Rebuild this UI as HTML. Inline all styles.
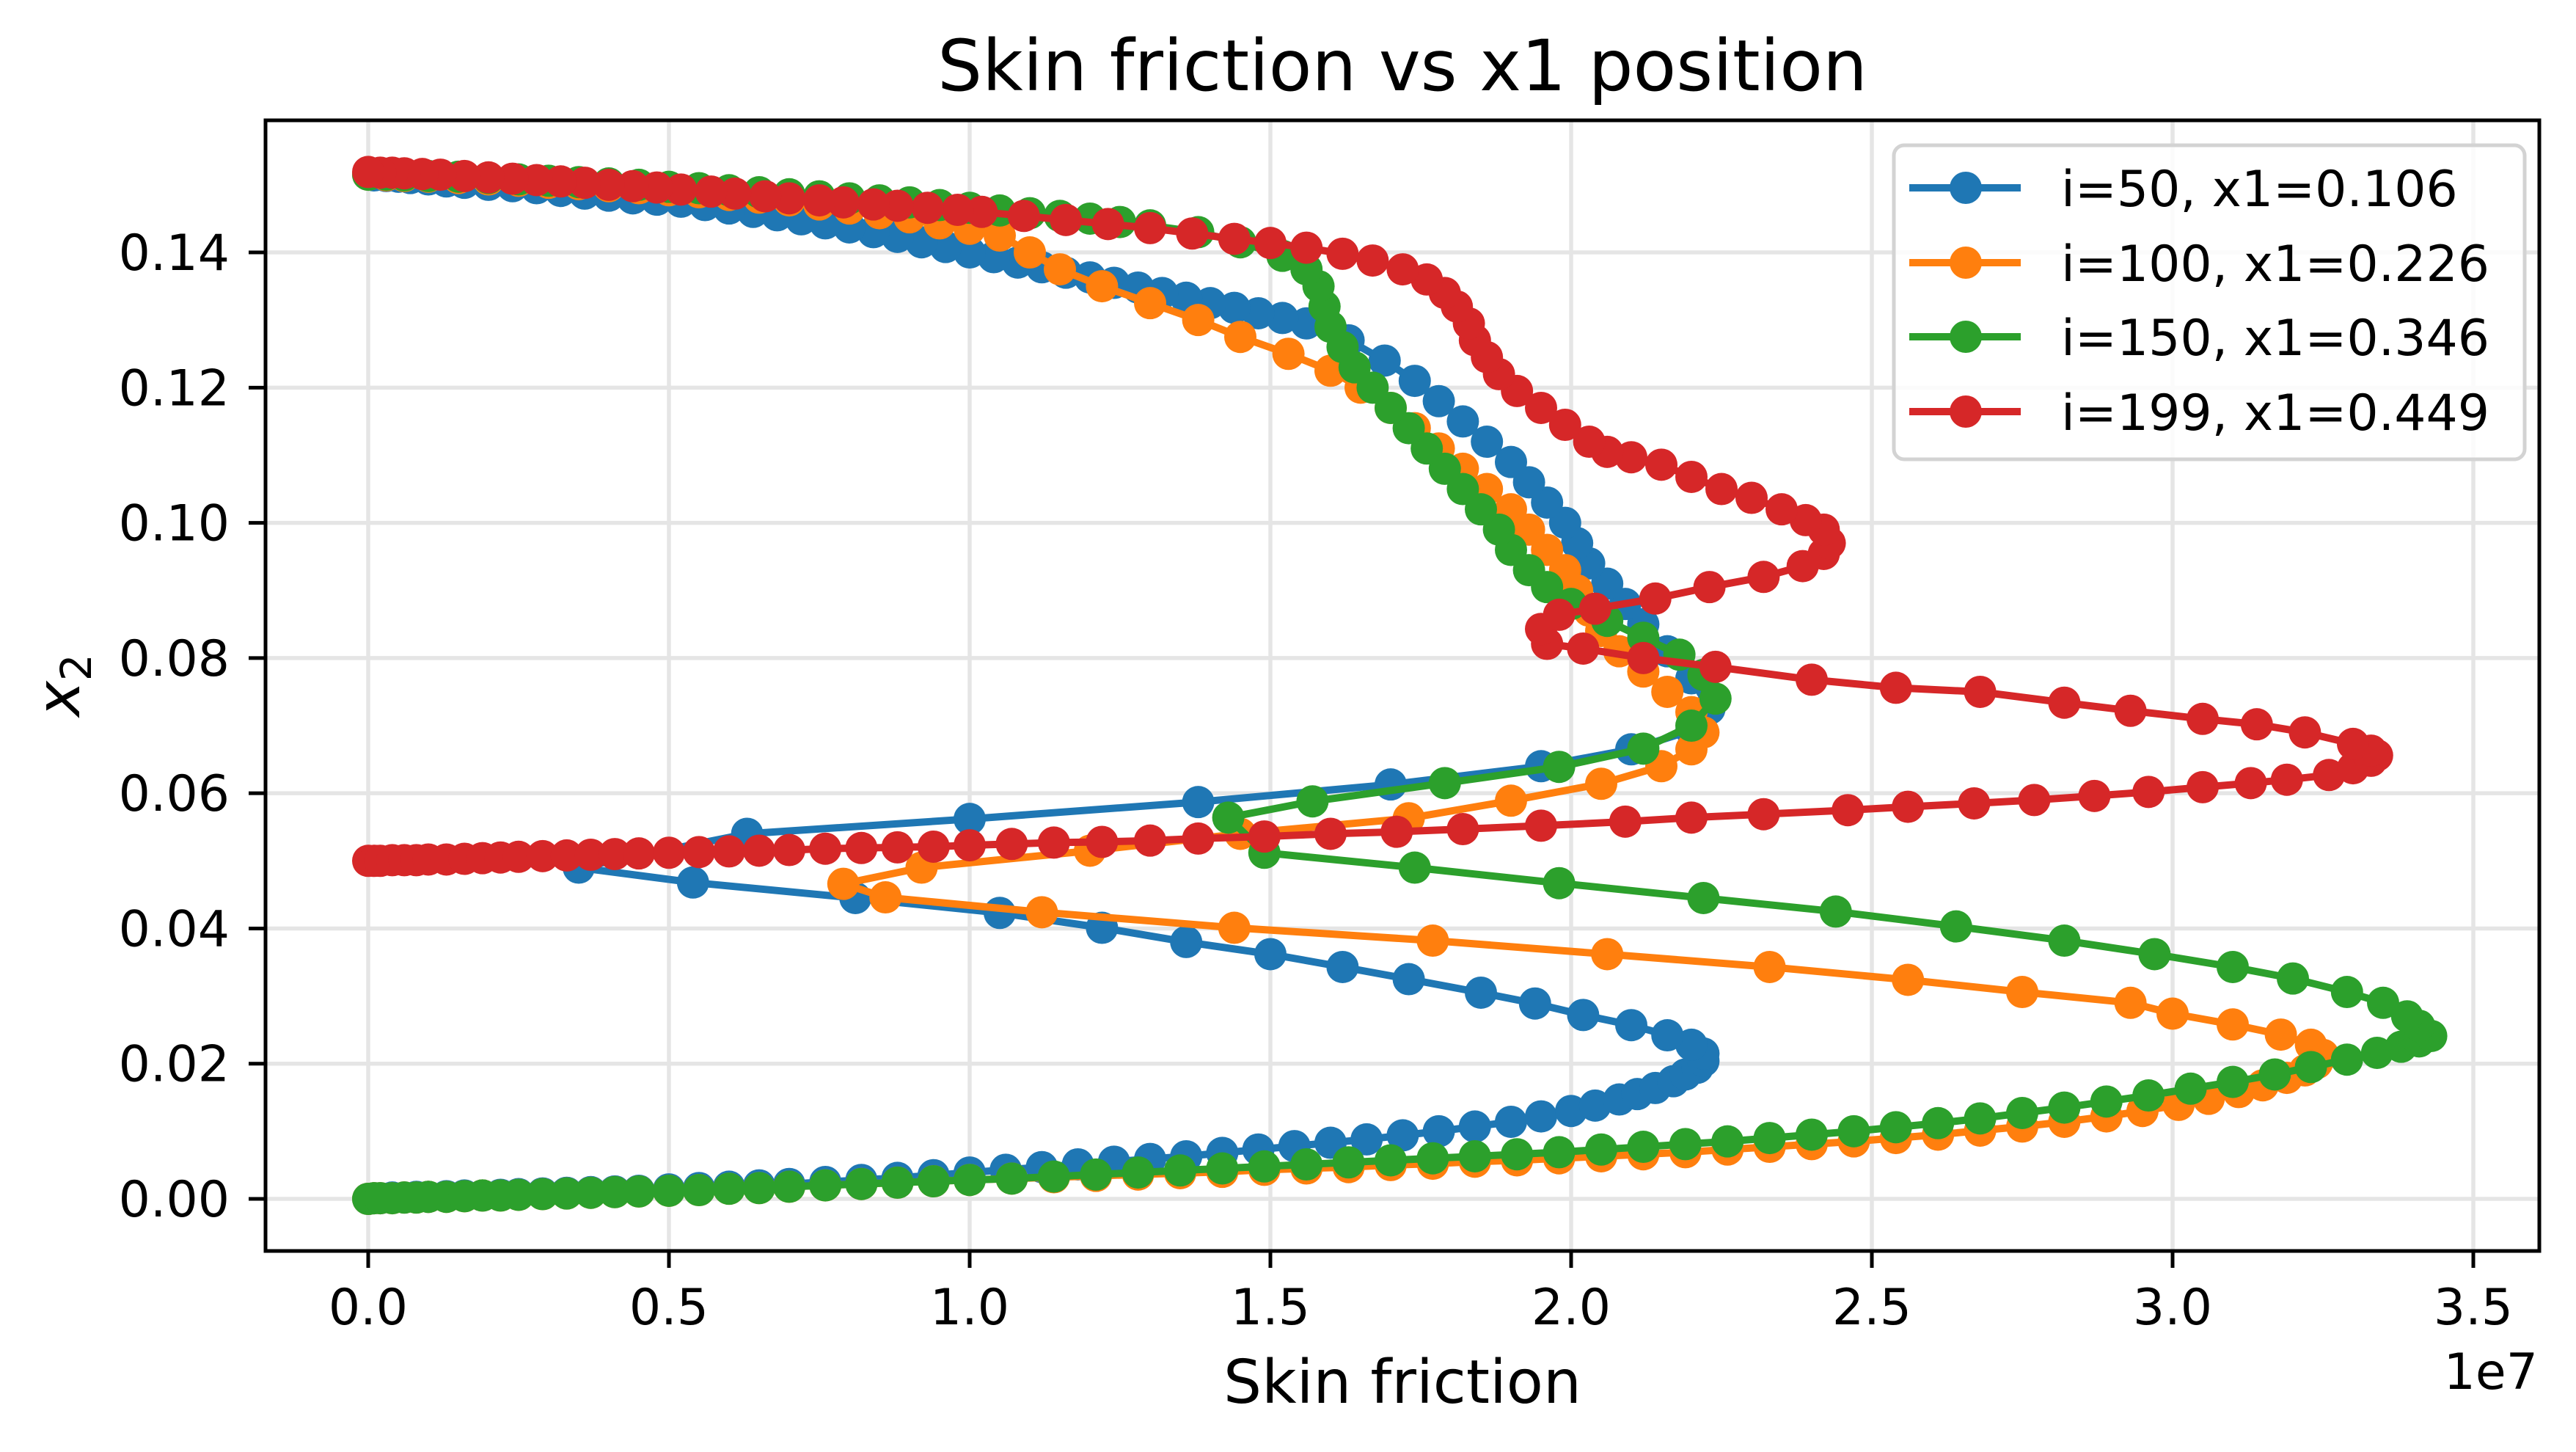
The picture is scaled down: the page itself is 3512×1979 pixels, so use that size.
<!DOCTYPE html>
<html><head><meta charset="utf-8"><style>
html,body{margin:0;padding:0;background:#fff}
svg{display:block}
text{font-family:"DejaVu Sans","Liberation Sans",sans-serif;fill:#000}
</style></head><body>
<svg id="chart" width="3512" height="1979" viewBox="0 0 3512 1979" xmlns="http://www.w3.org/2000/svg">
<rect width="3512" height="1979" fill="#fff"/>
<g id="grid"></g>
<g id="plot"></g>
<rect x="362" y="164" width="3100" height="1541" fill="none" stroke="#000" stroke-width="5"/>
<g id="ticks"></g>
<text x="1912" y="123" font-size="96" text-anchor="middle">Skin friction vs x1 position</text>
<text x="1912" y="1912" font-size="82" text-anchor="middle">Skin friction</text>
<text x="3460" y="1893" font-size="68" text-anchor="end">1e7</text>
<text transform="translate(108,934) rotate(-90)" font-size="82" text-anchor="middle"><tspan font-style="italic">x</tspan><tspan font-size="58" dy="16">2</tspan></text>
<g id="legend"></g>
</svg>
<script>
const xTicks = [0,0.5,1.0,1.5,2.0,2.5,3.0,3.5];
const xTickLabels = ["0.0","0.5","1.0","1.5","2.0","2.5","3.0","3.5"];
const yTicks = [0,0.02,0.04,0.06,0.08,0.10,0.12,0.14];
const yTickLabels = ["0.00","0.02","0.04","0.06","0.08","0.10","0.12","0.14"];
const seriesNames = ["i=50, x1=0.106","i=100, x1=0.226","i=150, x1=0.346","i=199, x1=0.449"];
const seriesColors = ["#1f77b4","#ff7f0e","#2ca02c","#d62728"];

const blueData = [[0,0],[0.01,0.0001],[0.02,0.0001],[0.04,0.0002],[0.06,0.0002],[0.08,0.0003],[0.1,0.0003],[0.13,0.0004],[0.16,0.0005],[0.19,0.0005],[0.22,0.0006],[0.25,0.0007],[0.29,0.0008],[0.33,0.0009],[0.37,0.001],[0.41,0.0011],[0.45,0.0012],[0.5,0.0014],[0.55,0.0016],[0.6,0.0018],[0.65,0.002],[0.7,0.0022],[0.76,0.0025],[0.82,0.0028],[0.88,0.0031],[0.94,0.0035],[1.0,0.0039],[1.06,0.0043],[1.12,0.0047],[1.18,0.0051],[1.24,0.0055],[1.3,0.0059],[1.36,0.0063],[1.42,0.0068],[1.48,0.0073],[1.54,0.0078],[1.6,0.0083],[1.66,0.0088],[1.72,0.0094],[1.78,0.01],[1.84,0.0107],[1.9,0.0114],[1.95,0.0122],[2.0,0.013],[2.04,0.0138],[2.08,0.0147],[2.11,0.0155],[2.14,0.0164],[2.17,0.0174],[2.19,0.0184],[2.21,0.0194],[2.22,0.0204],[2.22,0.0215],[2.2,0.0228],[2.16,0.0242],[2.1,0.0257],[2.02,0.0272],[1.94,0.0289],[1.85,0.0305],[1.73,0.0325],[1.62,0.0343],[1.5,0.0362],[1.36,0.038],[1.22,0.0401],[1.05,0.0423],[0.81,0.0445],[0.54,0.0468],[0.35,0.049],[0.63,0.054],[1.0,0.0562],[1.38,0.0587],[1.7,0.0613],[1.95,0.064],[2.1,0.0665],[2.2,0.0693],[2.23,0.0725],[2.2,0.077],[2.16,0.081],[2.12,0.085],[2.09,0.088],[2.06,0.091],[2.03,0.094],[2.01,0.097],[1.99,0.1],[1.96,0.103],[1.93,0.106],[1.9,0.109],[1.86,0.112],[1.82,0.115],[1.78,0.118],[1.74,0.121],[1.69,0.124],[1.63,0.127],[1.56,0.1295],[1.52,0.1303],[1.48,0.131],[1.44,0.1318],[1.4,0.1325],[1.36,0.1333],[1.32,0.134],[1.28,0.1348],[1.24,0.1355],[1.2,0.1363],[1.16,0.137],[1.12,0.1378],[1.08,0.1385],[1.04,0.1393],[1.0,0.14],[0.96,0.1408],[0.92,0.1415],[0.88,0.1423],[0.84,0.143],[0.8,0.1437],[0.76,0.1443],[0.72,0.1449],[0.68,0.1455],[0.64,0.146],[0.6,0.1465],[0.56,0.147],[0.52,0.1475],[0.48,0.1478],[0.44,0.148],[0.4,0.1484],[0.36,0.1487],[0.32,0.1491],[0.28,0.1495],[0.24,0.1498],[0.2,0.15],[0.16,0.1503],[0.13,0.1505],[0.1,0.1508],[0.07,0.151],[0.05,0.1512],[0.03,0.1513],[0.01,0.1514],[0,0.1515]];

const orangeData = [[0,0],[0.01,0.0001],[0.02,0.0001],[0.04,0.0001],[0.06,0.0002],[0.08,0.0002],[0.1,0.0003],[0.13,0.0003],[0.16,0.0004],[0.19,0.0005],[0.22,0.0005],[0.25,0.0006],[0.29,0.0007],[0.33,0.0008],[0.37,0.0009],[0.41,0.001],[0.45,0.0011],[0.5,0.0012],[0.55,0.0013],[0.6,0.0015],[0.65,0.0016],[0.7,0.0018],[0.76,0.002],[0.82,0.0022],[0.88,0.0024],[0.94,0.0026],[1.0,0.0028],[1.07,0.003],[1.14,0.0032],[1.21,0.0034],[1.28,0.0036],[1.35,0.0038],[1.42,0.004],[1.49,0.0043],[1.56,0.0045],[1.63,0.0047],[1.7,0.005],[1.77,0.0052],[1.84,0.0055],[1.91,0.0057],[1.98,0.006],[2.05,0.0063],[2.12,0.0066],[2.19,0.0069],[2.26,0.0073],[2.33,0.0077],[2.4,0.0081],[2.47,0.0085],[2.54,0.009],[2.61,0.0095],[2.68,0.0101],[2.75,0.0107],[2.82,0.0114],[2.89,0.0122],[2.95,0.013],[3.01,0.0139],[3.06,0.0148],[3.11,0.0158],[3.15,0.0168],[3.19,0.0179],[3.22,0.019],[3.24,0.0201],[3.25,0.0213],[3.23,0.0228],[3.18,0.0243],[3.1,0.0258],[3.0,0.0274],[2.93,0.029],[2.75,0.0306],[2.56,0.0324],[2.33,0.0343],[2.06,0.0362],[1.77,0.0382],[1.44,0.0401],[1.12,0.0424],[0.86,0.0446],[0.79,0.0466],[0.92,0.049],[1.2,0.0515],[1.45,0.054],[1.73,0.0563],[1.9,0.0589],[2.05,0.0614],[2.15,0.064],[2.2,0.0665],[2.22,0.069],[2.2,0.072],[2.16,0.075],[2.12,0.078],[2.08,0.081],[2.05,0.084],[2.03,0.087],[2.01,0.09],[1.99,0.093],[1.96,0.096],[1.93,0.099],[1.9,0.102],[1.86,0.105],[1.82,0.108],[1.78,0.111],[1.74,0.114],[1.7,0.117],[1.65,0.12],[1.6,0.1225],[1.53,0.125],[1.45,0.1275],[1.38,0.13],[1.3,0.1325],[1.22,0.135],[1.15,0.1375],[1.1,0.14],[1.05,0.1425],[1.0,0.1435],[0.95,0.1443],[0.9,0.1452],[0.85,0.1458],[0.8,0.1465],[0.75,0.1471],[0.7,0.1477],[0.65,0.1481],[0.6,0.1485],[0.55,0.1489],[0.5,0.1492],[0.45,0.1495],[0.4,0.1498],[0.35,0.1501],[0.3,0.1503],[0.25,0.1506],[0.2,0.1508],[0.15,0.151],[0.1,0.1512],[0.06,0.1513],[0.03,0.1514],[0,0.1515]];

const greenData = [[0,0],[0.01,0.0001],[0.02,0.0001],[0.04,0.0001],[0.06,0.0002],[0.08,0.0002],[0.1,0.0003],[0.13,0.0003],[0.16,0.0004],[0.19,0.0005],[0.22,0.0005],[0.25,0.0006],[0.29,0.0007],[0.33,0.0008],[0.37,0.0009],[0.41,0.001],[0.45,0.0011],[0.5,0.0012],[0.55,0.0013],[0.6,0.0015],[0.65,0.0016],[0.7,0.0018],[0.76,0.002],[0.82,0.0022],[0.88,0.0024],[0.94,0.0026],[1.0,0.0028],[1.07,0.003],[1.14,0.0033],[1.21,0.0036],[1.28,0.0039],[1.35,0.0042],[1.42,0.0045],[1.49,0.0048],[1.56,0.0051],[1.63,0.0054],[1.7,0.0057],[1.77,0.006],[1.84,0.0063],[1.91,0.0066],[1.98,0.0069],[2.05,0.0073],[2.12,0.0077],[2.19,0.0081],[2.26,0.0085],[2.33,0.009],[2.4,0.0095],[2.47,0.01],[2.54,0.0106],[2.61,0.0112],[2.68,0.0119],[2.75,0.0127],[2.82,0.0135],[2.89,0.0144],[2.96,0.0153],[3.03,0.0163],[3.1,0.0173],[3.17,0.0184],[3.23,0.0195],[3.29,0.0206],[3.34,0.0216],[3.38,0.0225],[3.41,0.0233],[3.43,0.0241],[3.41,0.0256],[3.39,0.027],[3.35,0.029],[3.29,0.0306],[3.2,0.0326],[3.1,0.0343],[2.97,0.0362],[2.82,0.0382],[2.64,0.0403],[2.44,0.0425],[2.22,0.0445],[1.98,0.0467],[1.74,0.049],[1.49,0.0512],[1.43,0.0564],[1.57,0.0588],[1.79,0.0615],[1.98,0.0639],[2.12,0.0666],[2.2,0.07],[2.24,0.074],[2.22,0.0775],[2.18,0.0805],[2.12,0.083],[2.06,0.0855],[2.0,0.088],[1.96,0.0905],[1.93,0.093],[1.9,0.096],[1.88,0.099],[1.85,0.102],[1.82,0.105],[1.79,0.108],[1.76,0.111],[1.73,0.114],[1.7,0.117],[1.67,0.12],[1.64,0.123],[1.62,0.126],[1.6,0.129],[1.59,0.132],[1.58,0.135],[1.56,0.1375],[1.52,0.1395],[1.45,0.1415],[1.38,0.143],[1.3,0.144],[1.25,0.1445],[1.2,0.145],[1.15,0.1454],[1.1,0.1458],[1.05,0.1462],[1.0,0.1466],[0.95,0.147],[0.9,0.1474],[0.85,0.1477],[0.8,0.148],[0.75,0.1483],[0.7,0.1486],[0.65,0.1489],[0.6,0.1492],[0.55,0.1495],[0.5,0.1497],[0.45,0.15],[0.4,0.1502],[0.35,0.1504],[0.3,0.1506],[0.25,0.1508],[0.2,0.151],[0.15,0.1512],[0.1,0.1513],[0.06,0.1514],[0.03,0.1515],[0,0.1515]];

const redData = [[0,0.05],[0.01,0.05],[0.02,0.05],[0.04,0.0501],[0.06,0.0501],[0.08,0.0501],[0.1,0.0502],[0.13,0.0502],[0.16,0.0503],[0.19,0.0504],[0.22,0.0505],[0.25,0.0506],[0.29,0.0507],[0.33,0.0508],[0.37,0.0509],[0.41,0.051],[0.45,0.0511],[0.5,0.0512],[0.55,0.0513],[0.6,0.0514],[0.65,0.0515],[0.7,0.0516],[0.76,0.0518],[0.82,0.0519],[0.88,0.052],[0.94,0.0521],[1.0,0.0523],[1.07,0.0525],[1.14,0.0527],[1.22,0.0528],[1.3,0.053],[1.38,0.0533],[1.49,0.0536],[1.6,0.054],[1.71,0.0543],[1.82,0.0547],[1.95,0.0552],[2.09,0.0558],[2.2,0.0564],[2.32,0.0569],[2.46,0.0575],[2.56,0.058],[2.67,0.0585],[2.77,0.059],[2.87,0.0596],[2.96,0.0602],[3.05,0.0609],[3.13,0.0615],[3.19,0.062],[3.26,0.0627],[3.3,0.0637],[3.33,0.0648],[3.34,0.0656],[3.33,0.0663],[3.3,0.0673],[3.22,0.069],[3.14,0.0702],[3.05,0.071],[2.93,0.0722],[2.82,0.0734],[2.68,0.075],[2.54,0.0756],[2.4,0.0768],[2.24,0.0787],[2.12,0.08],[2.02,0.0814],[1.96,0.0821],[1.95,0.0843],[1.98,0.0864],[2.04,0.0873],[2.14,0.0888],[2.23,0.0905],[2.32,0.092],[2.385,0.0936],[2.42,0.0954],[2.43,0.097],[2.42,0.099],[2.39,0.1004],[2.35,0.102],[2.3,0.1037],[2.25,0.105],[2.2,0.1068],[2.15,0.1086],[2.1,0.1097],[2.06,0.1105],[2.03,0.112],[1.99,0.1145],[1.95,0.117],[1.91,0.1195],[1.88,0.122],[1.86,0.1245],[1.84,0.127],[1.83,0.1295],[1.81,0.132],[1.79,0.134],[1.76,0.136],[1.72,0.1375],[1.67,0.1388],[1.62,0.1398],[1.56,0.1407],[1.5,0.1414],[1.44,0.142],[1.37,0.1428],[1.3,0.1436],[1.23,0.1442],[1.16,0.1448],[1.09,0.1454],[1.02,0.146],[0.98,0.1463],[0.93,0.1466],[0.88,0.1469],[0.84,0.1471],[0.79,0.1474],[0.75,0.1477],[0.7,0.148],[0.66,0.1483],[0.61,0.1487],[0.57,0.149],[0.52,0.1493],[0.48,0.1496],[0.44,0.1498],[0.4,0.15],[0.36,0.1503],[0.32,0.1505],[0.28,0.1507],[0.24,0.1509],[0.2,0.1511],[0.16,0.1513],[0.12,0.1515],[0.09,0.1516],[0.06,0.1517],[0.04,0.1518],[0.02,0.1518],[0,0.1519]];

const NS = "http://www.w3.org/2000/svg";
const X0 = 502, XS = 820, Y0 = 1634, YS = 9214;
const L = 362, R = 3462, T = 164, B = 1705;
function xScale(v){ return X0 + v*XS; }
function yScale(v){ return Y0 - v*YS; }
function mk(tag, attrs, parent){ const e=document.createElementNS(NS,tag); for(const k in attrs) e.setAttribute(k, attrs[k]); parent.appendChild(e); return e; }

const grid = document.getElementById('grid');
const ticks = document.getElementById('ticks');
xTicks.forEach((v,i)=>{
  const x = xScale(v);
  const g = mk('line',{x1:x,x2:x,y1:T,y2:B,stroke:'#e5e5e5','stroke-width':5.5},grid);
  
  
  const t = mk('line',{x1:x,x2:x,y1:B,y2:B+23,stroke:'#000','stroke-width':5},ticks);
  
  
  const lb = mk('text',{x:x,y:1805,'font-size':68,'text-anchor':'middle'},ticks);
  lb.textContent = xTickLabels[i];
  
  
});
yTicks.forEach((v,i)=>{
  const y = yScale(v);
  const g = mk('line',{x1:L,x2:R,y1:y,y2:y,stroke:'#e5e5e5','stroke-width':5.5},grid);
  
  
  const t = mk('line',{x1:L-23,x2:L,y1:y,y2:y,stroke:'#000','stroke-width':5},ticks);
  
  
  const lb = mk('text',{x:313,y:y+24,'font-size':68,'text-anchor':'end'},ticks);
  lb.textContent = yTickLabels[i];
  
  
});

const plot = document.getElementById('plot');
const allData = [blueData, orangeData, greenData, redData];
const seriesKeys = ['i50','i100','i150','i199'];
allData.forEach((d,s)=>{
  const g = mk('g',{},plot);
  
  
  const pts = d.map(p=>xScale(p[0]).toFixed(1)+','+yScale(p[1]).toFixed(1)).join(' ');
  const pl = mk('polyline',{points:pts,fill:'none',stroke:seriesColors[s],'stroke-width':10,'stroke-linejoin':'round','stroke-linecap':'round'},g);
  
  
  d.forEach(p=>{
    const c = mk('circle',{cx:xScale(p[0]),cy:yScale(p[1]),r:22,fill:seriesColors[s]},g);
    
    
  });
});

const leg = document.getElementById('legend');
const box = mk('rect',{x:2582,y:198,width:860,height:428,rx:14,ry:14,fill:'#fff','fill-opacity':0.85,stroke:'#d3d3d3','stroke-width':5},leg);


const rowY = [256,358,459,561];
seriesNames.forEach((n,i)=>{
  const g = mk('g',{},leg);
  
  
  mk('line',{x1:2603,x2:2755,y1:rowY[i],y2:rowY[i],stroke:seriesColors[i],'stroke-width':10},g);
  mk('circle',{cx:2680,cy:rowY[i],r:22,fill:seriesColors[i]},g);
  const t = mk('text',{x:2810,y:rowY[i]+25,'font-size':68},g);
  t.textContent = n;
  
  
});
</script>
</body></html>
